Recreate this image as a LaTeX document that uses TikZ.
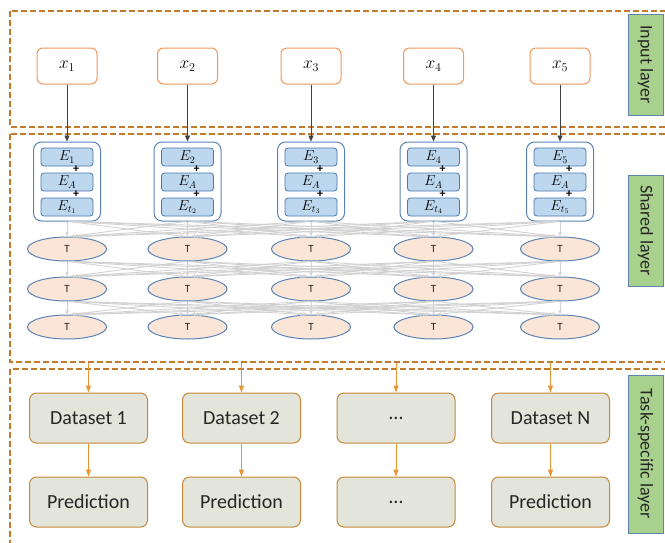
\documentclass[tikz,border=0pt]{standalone}
\usepackage{fontspec}
\setmainfont{Carlito}
\usetikzlibrary{shapes.geometric,arrows.meta,calc}
\definecolor{inorange}{HTML}{F0985A}
\definecolor{grpblue}{HTML}{5A83B4}
\definecolor{embblue}{HTML}{4A78AD}
\definecolor{embfill}{HTML}{BDD7EE}
\definecolor{ellblue}{HTML}{5B84B5}
\definecolor{ellfill}{HTML}{FBE5D6}
\definecolor{taskbrown}{HTML}{C78836}
\definecolor{taskfill}{HTML}{E3E5DB}
\definecolor{labgreen}{HTML}{A9D18E}
\definecolor{labblue}{HTML}{5E84B0}
\definecolor{framecol}{HTML}{C47A2C}
\definecolor{oarrowcol}{HTML}{EC9434}
\definecolor{linkgray}{HTML}{D2D2D2}
\definecolor{txt}{HTML}{262626}
\begin{document}
\begin{tikzpicture}[x=1pt,y=-1pt,
  frame/.style={draw=framecol, line width=1.1pt, dash pattern=on 6pt off 3pt},
  inbox/.style={draw=inorange, line width=1pt, rounded corners=6pt, fill=white,
    minimum width=60pt, minimum height=36pt, inner sep=0pt, font=\fontsize{18}{20}\selectfont},
  grp/.style={draw=grpblue, line width=1pt, rounded corners=8pt, fill=white,
    minimum width=67pt, minimum height=79pt, inner sep=0pt},
  emb/.style={draw=embblue, fill=embfill, line width=0.8pt, rounded corners=3pt,
    minimum width=52pt, minimum height=18pt, inner sep=0pt, font=\fontsize{14.5}{16}\selectfont},
  plussign/.style={inner sep=0pt, font=\fontsize{12}{13}\selectfont\bfseries},
  tnode/.style={ellipse, draw=ellblue, fill=ellfill, line width=1pt,
    minimum width=79pt, minimum height=24pt, inner sep=0pt, font=\fontsize{11}{12}\selectfont, text=txt},
  taskbox/.style={draw=taskbrown, fill=taskfill, line width=1pt, rounded corners=7pt,
    minimum width=118pt, minimum height=50pt, inner sep=0pt, text=txt, font=\fontsize{20}{22}\selectfont},
  lab/.style={draw=labblue, fill=labgreen, line width=1pt, rotate=-90,
    minimum height=35pt, inner sep=0pt, text=txt, font=\fontsize{18}{20}\selectfont},
  inarrow/.style={draw=black!75, line width=0.6pt, -{Triangle[length=6pt,width=5pt]}},
  link/.style={draw=linkgray, line width=0.9pt, -{Stealth[length=5pt,width=4pt]}},
  oarrow/.style={draw=oarrowcol, line width=1pt, -{Triangle[length=7pt,width=5pt]}}
]
\useasboundingbox (0,0) rectangle (665,542);
\clip (0,0) rectangle (665,542);

% layer frames
\draw[frame] (10,11) rectangle (690,127);
\draw[frame] (10,134) rectangle (690,362);
\draw[frame] (10,369) rectangle (690,580);

% layer labels
\node[lab, minimum width=101pt] (labin) at (645.5,64.5) {Input layer};
\node[lab, minimum width=111pt] (labsh) at (645.5,230.5) {Shared layer};
\node[lab, minimum width=158pt] (labts) at (645.5,454) {Task-specific layer};

% input nodes, embedding groups and transformer stacks
\foreach \i/\x in {1/67,2/187.5,3/311,4/433.5,5/560}{
  \node[inbox] (x\i) at (\x,66) {$x_{\i}$};
  \node[grp] (g\i) at (\x,181.5) {};
  \node[emb] (e\i-a) at (\x,157) {$E_{\i}$};
  \node[emb] (e\i-b) at (\x,182) {$E_{A}$};
  \node[emb] (e\i-c) at (\x,207) {$E_{t_{\i}}$};
  \node[plussign] (p\i-a) at (\x+9,169) {+};
  \node[plussign] (p\i-b) at (\x+9,194) {+};
  \node[tnode] (t\i-1) at (\x,249) {T};
  \node[tnode] (t\i-2) at (\x,289) {T};
  \node[tnode] (t\i-3) at (\x,327) {T};
  \draw[inarrow] (x\i) -- (g\i);
}

% fully connected links between consecutive rows
\foreach \i in {1,...,5}{
  \foreach \j in {1,...,5}{
    \draw[link] ([xshift={(\j-\i)*2}]g\i.south) -- ([xshift={(\i-\j)*3}]t\j-1.north);
    \draw[link] ([xshift={(\j-\i)*2}]t\i-1.south) -- ([xshift={(\i-\j)*3}]t\j-2.north);
    \draw[link] ([xshift={(\j-\i)*2}]t\i-2.south) -- ([xshift={(\i-\j)*3}]t\j-3.north);
  }
}

% task-specific heads
\foreach \i/\x/\name/\pred in {1/88.5/Dataset 1/Prediction,2/241.5/Dataset 2/Prediction,3/396/…/…,4/550.5/Dataset N/Prediction}{
  \coordinate (top\i) at (\x,363);
  \node[taskbox] (d\i) at (\x,418) {\name};
  \node[taskbox] (r\i) at (\x,502) {\pred};
  \draw[oarrow] (top\i) -- (d\i);
  \draw[oarrow] (d\i) -- (r\i);
}
\end{tikzpicture}
\end{document}
